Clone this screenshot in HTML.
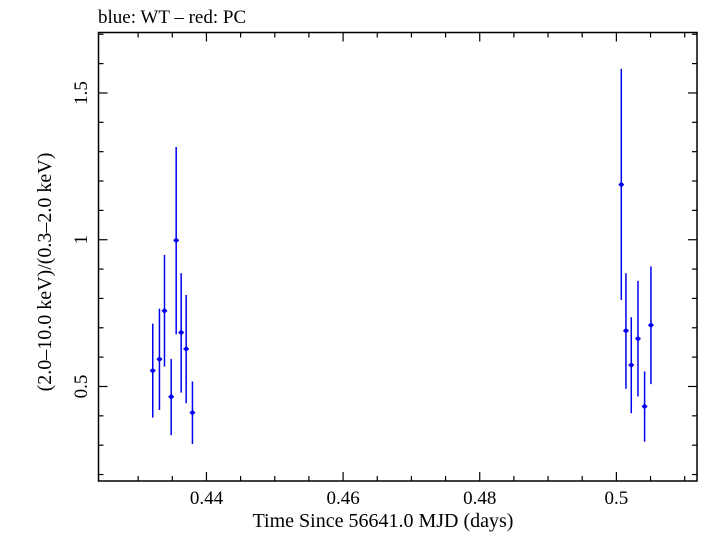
<!DOCTYPE html>
<html><head><meta charset="utf-8"><style>
html,body{margin:0;padding:0;background:#fff;}
svg text{font-family:"Liberation Serif",serif;fill:#000;}
</style></head><body>
<svg id="chart" width="705" height="532" viewBox="0 0 705 532" xmlns="http://www.w3.org/2000/svg">
<text x="98" y="23" font-size="19">blue: WT – red: PC</text>
<rect x="98.5" y="32.5" width="598.5" height="448.5" fill="none" stroke="#000" stroke-width="1.5"/>
<g id="ticks"></g>
<g id="marks"></g>
<text x="383" y="527" font-size="20" text-anchor="middle">Time Since 56641.0 MJD (days)</text>
<text transform="translate(51,272) rotate(-90)" font-size="20" text-anchor="middle">(2.0–10.0 keV)/(0.3–2.0 keV)</text>
</svg>
<script>
const times=[0.43214,0.43312,0.43386,0.43484,0.43557,0.4363,0.43703,0.43795,0.50072,0.5014,0.50218,0.50316,0.50413,0.50506];
const ratios=[0.554,0.593,0.758,0.465,0.998,0.684,0.628,0.411,1.188,0.69,0.573,0.663,0.432,0.709];
const errHi=[0.714,0.765,0.948,0.594,1.316,0.886,0.812,0.517,1.582,0.886,0.736,0.86,0.551,0.909];
const errLo=[0.394,0.42,0.568,0.334,0.678,0.479,0.443,0.304,0.795,0.492,0.409,0.466,0.312,0.508];
const timeErr=[0.0004,0.0004,0.0004,0.0004,0.0004,0.0004,0.0004,0.0004,0.0004,0.0004,0.0004,0.0004,0.0004,0.0004];
const xTicks=[0.44,0.46,0.48,0.5];
const xTickLabels=["0.44","0.46","0.48","0.5"];
const yTicks=[0.5,1,1.5];
const yTickLabels=["0.5","1","1.5"];
const X0=98.5,X1=697,Y0=32.5,Y1=481;
const xMin=0.4242,xMax=0.5118,yMin=0.178,yMax=1.706;
const sx=v=>X0+(v-xMin)/(xMax-xMin)*(X1-X0);
const sy=v=>Y1-(v-yMin)/(yMax-yMin)*(Y1-Y0);
const NS="http://www.w3.org/2000/svg";
function mk(tag,attrs,parent){const e=document.createElementNS(NS,tag);for(const k in attrs)e.setAttribute(k,attrs[k]);parent.appendChild(e);return e;}
const tg=document.getElementById('ticks');
for(let k=86;k*0.005<=xMax;k++){
  const v=k*0.005;
  const x=sx(v);const major=(k%4===0);const L=major?9:5;
  let t=mk('line',{x1:x,x2:x,y1:Y1,y2:Y1-L,stroke:'#000','stroke-width':1.2},tg);
  
  
  t=mk('line',{x1:x,x2:x,y1:Y0,y2:Y0+L,stroke:'#000','stroke-width':1.2},tg);
  
  
}
for(let i=2;i<=17;i++){
  const v=i/10;const y=sy(v);const L=(i%5===0)?9:5;
  let t=mk('line',{x1:X0,x2:X0+L,y1:y,y2:y,stroke:'#000','stroke-width':1.2},tg);
  
  
  t=mk('line',{x1:X1,x2:X1-L,y1:y,y2:y,stroke:'#000','stroke-width':1.2},tg);
  
  
}
xTicks.forEach((v,i)=>{
  const t=mk('text',{x:sx(v),y:504,'font-size':19,'text-anchor':'middle'},tg);
  t.textContent=xTickLabels[i];
  
  
});
yTicks.forEach((v,i)=>{
  const y=sy(v);
  const t=mk('text',{transform:`translate(87,${y}) rotate(-90)`,'font-size':19,'text-anchor':'middle'},tg);
  t.textContent=yTickLabels[i];
  
  
});
const mg=document.getElementById('marks');
times.forEach((t,i)=>{
  const g=mk('g',{},mg);
  
  
  const x=sx(t),y=sy(ratios[i]);
  mk('line',{x1:x,x2:x,y1:sy(errHi[i]),y2:sy(errLo[i]),stroke:'#0000ee','stroke-width':1.5},g);
  mk('line',{x1:sx(t-timeErr[i]),x2:sx(t+timeErr[i]),y1:y,y2:y,stroke:'#0000ee','stroke-width':1.5},g);
  mk('circle',{cx:x,cy:y,r:2.2,fill:'#0000ee'},g);
});
</script>
</body></html>
